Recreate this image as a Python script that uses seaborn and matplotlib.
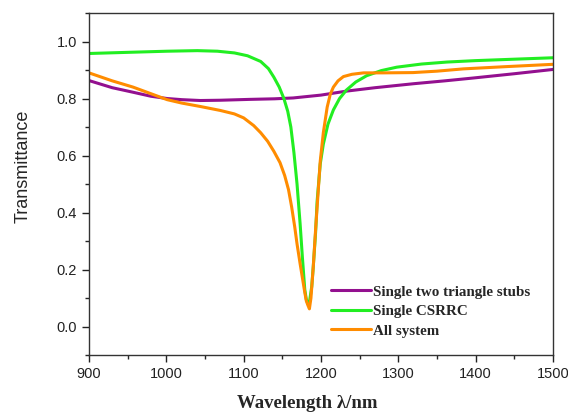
import matplotlib
matplotlib.use("Agg")
import matplotlib.pyplot as plt
from matplotlib.ticker import MultipleLocator
import seaborn as sns
import pandas as pd

# --- data ---
stubs_wl = [900, 930, 957, 980, 1001, 1020, 1044, 1070, 1108, 1140, 1164, 1200, 1233, 1270, 1320, 1360, 1397, 1450, 1500]
stubs_t = [0.863, 0.838, 0.822, 0.808, 0.800, 0.796, 0.793, 0.794, 0.797, 0.799, 0.802, 0.812, 0.826, 0.838, 0.852, 0.862, 0.872, 0.887, 0.902]

csrrc_wl = [900, 950, 1001, 1040, 1066, 1088, 1105, 1122, 1132, 1139, 1146, 1152, 1157, 1161, 1165, 1169, 1173, 1176, 1179, 1181, 1183, 1185, 1188, 1190, 1193, 1195, 1199, 1203, 1209, 1216, 1224, 1233, 1245, 1259, 1278, 1298, 1330, 1363, 1400, 1450, 1500]
csrrc_t = [0.958, 0.962, 0.966, 0.968, 0.966, 0.960, 0.950, 0.930, 0.905, 0.875, 0.840, 0.800, 0.755, 0.700, 0.610, 0.500, 0.360, 0.240, 0.130, 0.095, 0.080, 0.085, 0.140, 0.210, 0.330, 0.440, 0.570, 0.640, 0.710, 0.760, 0.800, 0.830, 0.858, 0.880, 0.898, 0.910, 0.921, 0.928, 0.933, 0.938, 0.943]

all_wl = [900, 930, 957, 980, 1001, 1020, 1044, 1070, 1088, 1100, 1113, 1122, 1131, 1139, 1147, 1153, 1158, 1162, 1166, 1169, 1173, 1176, 1179, 1181, 1183, 1185, 1187, 1190, 1193, 1196, 1199, 1203, 1208, 1212, 1216, 1222, 1229, 1240, 1255, 1280, 1319, 1350, 1384, 1440, 1500]
all_t = [0.890, 0.862, 0.840, 0.817, 0.796, 0.784, 0.772, 0.758, 0.746, 0.732, 0.705, 0.680, 0.650, 0.615, 0.575, 0.530, 0.480, 0.420, 0.350, 0.290, 0.220, 0.170, 0.120, 0.090, 0.075, 0.062, 0.100, 0.210, 0.340, 0.460, 0.580, 0.680, 0.770, 0.815, 0.840, 0.862, 0.877, 0.885, 0.890, 0.890, 0.891, 0.896, 0.904, 0.912, 0.920]

series_names = ["Single two triangle stubs", "Single CSRRC", "All system"]
colors = ["#93108f", "#22ee22", "#ff8c00"]

x_ticks = [900, 1000, 1100, 1200, 1300, 1400, 1500]
y_ticks = [0.0, 0.2, 0.4, 0.6, 0.8, 1.0]

frames = []
for name, wl, t in zip(series_names, [stubs_wl, csrrc_wl, all_wl], [stubs_t, csrrc_t, all_t]):
    frames.append(pd.DataFrame({"wl": wl, "T": t, "series": name}))
df = pd.concat(frames, ignore_index=True)

sns.set_style("ticks")
plt.rcParams["font.family"] = ["Liberation Sans", "DejaVu Sans"]

fig = plt.figure(figsize=(5.68, 4.12), dpi=100)
ax = fig.add_axes([0.1567, 0.1383, 0.9736 - 0.1567, 0.9684 - 0.1383])

sns.lineplot(data=df, x="wl", y="T", hue="series", hue_order=series_names,
             palette=dict(zip(series_names, colors)), sort=False,
             linewidth=2.2, ax=ax, legend=True)

ax.set_xlim(900, 1500)
ax.set_ylim(-0.1, 1.1)
ax.set_xticks(x_ticks)
ax.set_yticks(y_ticks)
ax.set_yticklabels([f"{v:.1f}" for v in y_ticks])
ax.xaxis.set_minor_locator(MultipleLocator(50))
ax.yaxis.set_minor_locator(MultipleLocator(0.1))
ax.tick_params(axis="both", which="major", direction="out", length=5, width=1.0,
               labelsize=10.5, colors="#222222")
ax.tick_params(axis="both", which="minor", direction="out", length=3, width=1.0)
ax.tick_params(top=False, right=False)
for s in ax.spines.values():
    s.set_visible(True)
    s.set_linewidth(1.0)
    s.set_color("#333333")

ax.set_ylabel("Transmittance", fontsize=13)
ax.yaxis.set_label_coords(-0.141, 0.553)
ax.yaxis.label.set_verticalalignment("center")
ax.yaxis.label.set_horizontalalignment("center")

ax.set_xlabel("Wavelength λ/nm", fontsize=13.5, fontweight="bold",
              family=["Liberation Serif", "DejaVu Serif"])
ax.xaxis.set_label_coords(0.47, -0.155)
ax.xaxis.label.set_verticalalignment("baseline")

leg = ax.legend(loc="upper left", bbox_to_anchor=(0.5216, 0.2047), frameon=False,
                borderaxespad=0, borderpad=0,
                handlelength=2.67, handletextpad=0.15, labelspacing=0.4,
                prop={"family": ["Liberation Serif", "DejaVu Serif"], "weight": "bold", "size": 10.8})
for line in leg.get_lines():
    line.set_linewidth(2.2)

fig.savefig("out.png", dpi=100)
